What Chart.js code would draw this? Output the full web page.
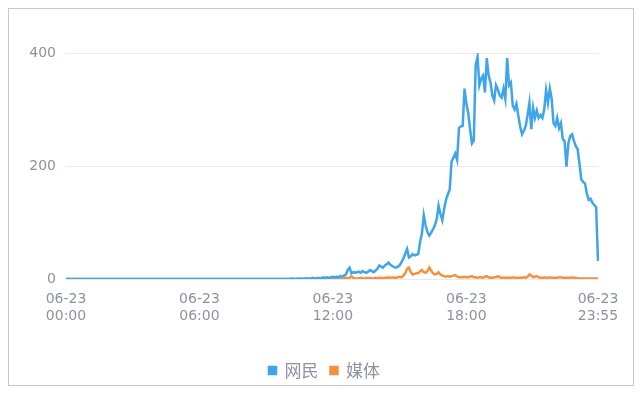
<!DOCTYPE html>
<html>
<head>
<meta charset="utf-8">
<script src="https://cdn.jsdelivr.net/npm/chart.js@4.4.1/dist/chart.umd.min.js"></script>
<style>
  html, body { margin: 0; padding: 0; background: #fff; overflow: hidden; }
  #box {
    position: absolute; left: 8px; top: 8px;
    width: 626px; height: 378px;
    box-sizing: border-box;
    border: 1px solid #c8c8c8;
  }
  #chart { position: absolute; left: 9px; top: 9px; display: block; }
</style>
</head>
<body>
<div id="box"></div>
<canvas id="chart" width="624" height="390"></canvas>
<script>
// 5-minute buckets on 06-23
const day = '06-23';
const times = [];
for (let h = 0; h < 24; h++) {
  for (let m = 0; m < 60; m += 5) {
    times.push(String(h).padStart(2, '0') + ':' + String(m).padStart(2, '0'));
  }
}
const tickIndexes = [0, 72, 144, 216, 287];
const seriesNames = ['网民', '媒体'];
const yTicks = [0, 200, 400];

// 网民
const netizens = [
  0,0,0,0,0,0,0,0,0,0, 0,0,0,0,0,0,0,0,0,0, 0,0,0,0,0,0,0,0,0,0,
  0,0,0,0,0,0,0,0,0,0, 0,0,0,0,0,0,0,0,0,0, 0,0,0,0,0,0,0,0,0,0,
  0,0,0,0,0,0,0,0,0,0, 0,0,0,0,0,0,0,0,0,0, 0,0,0,0,0,0,0,0,0,0,
  0,0,0,0,0,0,0,0,0,0, 0,0,0,0,0,0,0,0,0,0, 0,0,0,0,0,0,0,0,0,0,
  0,0,1,0,0,1,0,1,0,1,
  1,0,1,2,1,1,2,1,2,3,
  2,3,2,3,4,3,4,3,5,4,
  6,8,16,20,10,12,11,12,13,11,
  14,12,11,13,16,14,12,15,18,24,
  22,20,24,26,29,25,23,21,20,22,
  24,30,36,45,53,38,40,44,42,43,
  44,65,80,113,95,83,77,82,88,95,
  106,130,115,104,124,140,150,158,208,215,
  222,211,267,270,271,337,310,294,265,240,
  245,378,393,343,355,360,330,391,360,348,
  325,316,343,335,325,321,337,319,391,343,
  348,307,300,310,289,270,256,262,271,290,
  312,265,303,285,298,285,290,285,300,334,
  312,337,319,276,271,285,267,276,248,244,
  199,240,253,256,245,235,230,204,176,172,
  169,151,140,142,135,131,127,32
];

// 媒体
const media = [
  0,0,0,0,0,0,0,0,0,0, 0,0,0,0,0,0,0,0,0,0, 0,0,0,0,0,0,0,0,0,0,
  0,0,0,0,0,0,0,0,0,0, 0,0,0,0,0,0,0,0,0,0, 0,0,0,0,0,0,0,0,0,0,
  0,0,0,0,0,0,0,0,0,0, 0,0,0,0,0,0,0,0,0,0, 0,0,0,0,0,0,0,0,0,0,
  0,0,0,0,0,0,0,0,0,0, 0,0,0,0,0,0,0,0,0,0, 0,0,0,0,0,0,0,0,0,0,
  0,0,0,0,0,0,1,0,0,0,
  0,1,0,0,1,0,0,1,0,0,
  1,0,1,0,0,1,1,0,1,1,
  1,2,1,2,5,2,1,1,1,2,
  1,1,2,1,2,1,1,2,1,2,
  2,1,2,2,3,2,3,2,2,3,
  4,3,6,10,18,20,12,8,9,10,
  10,14,16,12,11,14,20,15,10,8,
  9,12,8,6,5,4,5,4,5,6,
  7,4,3,3,3,4,3,3,4,5,
  3,3,2,3,3,2,4,5,3,2,
  2,3,3,5,3,2,2,2,2,2,
  2,3,2,2,2,2,2,3,2,4,
  8,6,3,4,5,3,2,2,3,2,
  2,3,2,2,2,2,3,3,2,2,
  2,2,2,3,2,2,1,1,1,1,
  1,1,1,1,1,1,1,1
];

const textColor = '#8c91a3';
const tickFont = '"DejaVu Sans", "Noto Sans", sans-serif';
const legendFont = '"Noto Sans CJK SC", sans-serif';

// nudge the legend to the right so it sits where the original one does
const legendShift = {
  id: 'legendShift',
  afterLayout(chart) {
    if (chart.legend) {
      chart.legend.left += 21;
      chart.legend.right += 21;
    }
  }
};

const ctx = document.getElementById('chart').getContext('2d');
new Chart(ctx, {
  type: 'line',
  data: {
    labels: times.map(t => day + ' ' + t),
    datasets: [{
      label: seriesNames[0],
      data: netizens,
      borderColor: '#3fa5ea',
      backgroundColor: '#3fa5ea',
      borderWidth: 2.5,
      pointRadius: 0,
      tension: 0
    }, {
      label: seriesNames[1],
      data: media,
      borderColor: '#f5913e',
      backgroundColor: '#f5913e',
      borderWidth: 2.5,
      pointRadius: 0,
      tension: 0
    }]
  },
  plugins: [legendShift],
  options: {
    responsive: false,
    animation: false,
    layout: { padding: { top: 44, right: 35, left: 0, bottom: 10 } },
    plugins: {
      legend: {
        position: 'bottom',
        labels: {
          color: textColor,
          font: { family: legendFont, size: 17 },
          boxWidth: 7,
          boxHeight: 7,
          padding: 12
        }
      },
      tooltip: { enabled: false }
    },
    scales: {
      x: {
        offset: false,
        grid: { display: false, drawTicks: false },
        border: { display: false },
        afterFit: function(scale) { scale.height = 71; },
        ticks: {
          autoSkip: false,
          maxRotation: 0,
          padding: 12,
          color: textColor,
          font: { family: tickFont, size: 14 },
          callback: function(value, index) {
            if (tickIndexes.indexOf(index) < 0) return null;
            return [day, times[index]];
          }
        }
      },
      y: {
        min: yTicks[0],
        max: yTicks[yTicks.length - 1],
        afterFit: function(scale) { scale.width = 57; },
        afterBuildTicks: function(scale) { scale.ticks = yTicks.map(v => ({ value: v })); },
        grid: { color: '#e6e9ef', drawTicks: false },
        border: { display: false },
        ticks: {
          padding: 10,
          color: textColor,
          font: { family: tickFont, size: 14 }
        }
      }
    }
  }
});
</script>
</body>
</html>
